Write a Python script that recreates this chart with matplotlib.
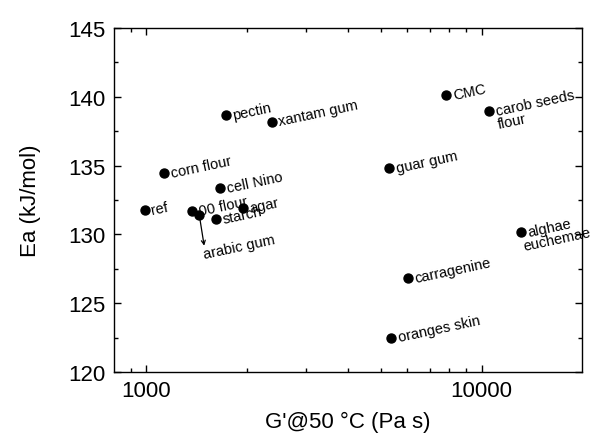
import matplotlib
matplotlib.use("Agg")
import matplotlib.pyplot as plt
from matplotlib.ticker import LogLocator, MultipleLocator, FixedLocator, NullFormatter

plt.rcParams['font.family'] = ['Liberation Sans', 'DejaVu Sans']

# -----------------------------
# Data
# -----------------------------
samples = ["ref", "corn flour", "00 flour", "arabic gum", "starch", "agar",
           "cell Nino", "pectin", "xantam gum", "guar gum", "oranges skin",
           "carragenine", "CMC", "carob seeds\nflour", "alghae\neuchemae"]
g_prime = [990, 1130, 1370, 1440, 1615, 1945,
           1665, 1730, 2370, 5310, 5375,
           6040, 7850, 10520, 13070]
ea = [131.75, 134.45, 131.7, 131.4, 131.15, 131.9,
      133.35, 138.65, 138.2, 134.85, 122.5,
      126.8, 140.15, 138.95, 130.15]

# offsets (points) of each line of a label from its marker
line_offsets = {"carob seeds\nflour": [(5, 0), (6.5, -9.5)],
                "alghae\neuchemae": [(5, 0), (2, -10)]}

fig = plt.figure(figsize=(5.92, 4.35), dpi=100)
ax = fig.add_axes([0.1926, 0.1425, 0.7904, 0.7908])

ax.scatter(g_prime, ea, s=42, color='black', zorder=3)

for name, x, y in zip(samples, g_prime, ea):
    if name == "arabic gum":
        # label sits below, with an arrow from the point
        ax.annotate('', xy=(x, y), xytext=(3.5, -22), textcoords='offset points',
                    arrowprops=dict(arrowstyle='<-', lw=0.9, color='black',
                                    shrinkA=0, shrinkB=3, mutation_scale=7))
        ax.annotate(name, xy=(x, y), xytext=(3, -28), textcoords='offset points',
                    ha='left', va='center', rotation=12, rotation_mode='anchor',
                    fontsize=10.5)
        continue
    lines = name.split("\n")
    offs = line_offsets.get(name, [(5, 0)])
    for line, (dx, dy) in zip(lines, offs):
        ax.annotate(line, xy=(x, y), xytext=(dx, dy), textcoords='offset points',
                    ha='left', va='center', rotation=12, rotation_mode='anchor',
                    fontsize=10.5, annotation_clip=False)

ax.set_xscale('log')
ax.set_xlim(802, 19900)
ax.set_ylim(120, 145)

ax.xaxis.set_major_locator(FixedLocator([1000, 10000]))
ax.xaxis.set_major_formatter(plt.FuncFormatter(lambda v, p: f"{int(v)}"))
ax.xaxis.set_minor_locator(LogLocator(base=10, subs=range(2, 10)))
ax.xaxis.set_minor_formatter(NullFormatter())
ax.yaxis.set_major_locator(MultipleLocator(5))
ax.yaxis.set_minor_locator(MultipleLocator(2.5))

ax.tick_params(which='both', direction='in', top=True, right=True, width=1)
ax.tick_params(which='major', length=5, labelsize=16, pad=6)
ax.tick_params(which='minor', length=3)
for s in ax.spines.values():
    s.set_linewidth(1)

ax.set_xlabel("G'@50 °C (Pa s)", fontsize=16, labelpad=7)
ax.set_ylabel("Ea (kJ/mol)", fontsize=16, labelpad=20)

fig.savefig("out.png", dpi=100)
